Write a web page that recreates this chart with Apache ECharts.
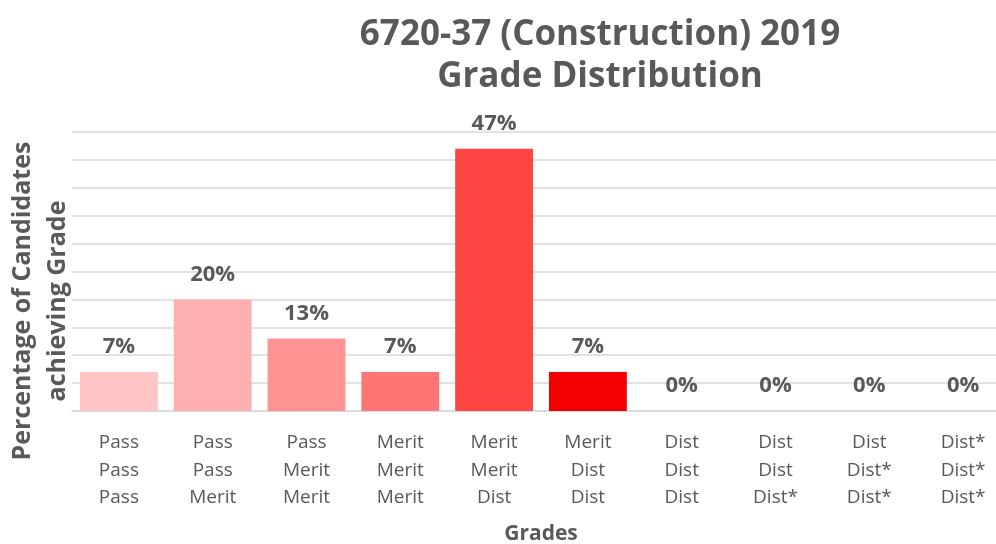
<!DOCTYPE html>
<html>
<head>
<meta charset="utf-8">
<script src="https://cdn.jsdelivr.net/npm/echarts@6/dist/echarts.min.js"></script>
<style>
  html, body { margin: 0; padding: 0; background: #fff; }
  #chart { width: 996px; height: 544px; }
</style>
</head>
<body>
<div id="chart"></div>
<script>
const grades = [
  "Pass\nPass\nPass", "Pass\nPass\nMerit", "Pass\nMerit\nMerit", "Merit\nMerit\nMerit",
  "Merit\nMerit\nDist", "Merit\nDist\nDist", "Dist\nDist\nDist", "Dist\nDist\nDist*",
  "Dist\nDist*\nDist*", "Dist*\nDist*\nDist*"
];
const percents = [7, 20, 13, 7, 47, 7, 0, 0, 0, 0];
const barColors = [
  "#ffc4c4", "#ffafaf", "#ff9393", "#ff7575", "#ff4444", "#f50000",
  "#ee0000", "#ee0000", "#ee0000", "#ee0000"
];

const textColor = "#595959";
const font = "Open Sans";
const chart = echarts.init(document.getElementById("chart"));

const option = {
  animation: false,
  title: {
    text: "6720-37 (Construction) 2019\nGrade Distribution",
    left: 595,
    textAlign: "center",
    top: 9,
    textStyle: {
      fontFamily: font,
      fontWeight: "bold",
      fontSize: 35,
      lineHeight: 42,
      color: textColor,
    },
  },
  grid: {
    left: 72,
    width: 938,
    top: 132,
    bottom: 133,
    outerBoundsMode: "none",
    containLabel: false,
  },
  xAxis: {
    type: "category",
    data: grades,
    name: "Grades",
    nameLocation: "middle",
    nameGap: 113,
    nameTextStyle: {
      fontFamily: font,
      fontWeight: "bold",
      fontSize: 21,
      color: textColor,
    },
    axisLine: { lineStyle: { color: "#d9d9d9", width: 1.5 } },
    axisTick: { show: false },
    axisLabel: {
      fontFamily: font,
      fontSize: 19,
      lineHeight: 27.5,
      color: textColor,
      margin: 18,
    },
  },
  yAxis: {
    type: "value",
    min: 0,
    max: 50,
    interval: 5,
    axisLabel: { show: false },
    axisLine: { show: false },
    axisTick: { show: false },
    splitLine: { lineStyle: { color: "#d9d9d9", width: 1.5 } },
  },
  graphic: [
    {
      type: "text",
      x: 40,
      y: 301,
      rotation: Math.PI / 2,
      style: {
        text: "Percentage of Candidates\nachieving Grade",
        fontFamily: font,
        fontWeight: "bold",
        fontSize: 25,
        lineHeight: 35,
        fill: textColor,
        align: "center",
        verticalAlign: "middle",
      },
    },
  ],
  series: [
    {
      type: "bar",
      barWidth: "83%",
      data: percents.map((v, i) => ({ value: v, itemStyle: { color: barColors[i] } })),
      label: {
        show: true,
        position: "top",
        distance: 14,
        formatter: "{c}%",
        fontFamily: font,
        fontWeight: "bold",
        fontSize: 22,
        color: textColor,
      },
    },
  ],
};

chart.setOption(option);
</script>
</body>
</html>
